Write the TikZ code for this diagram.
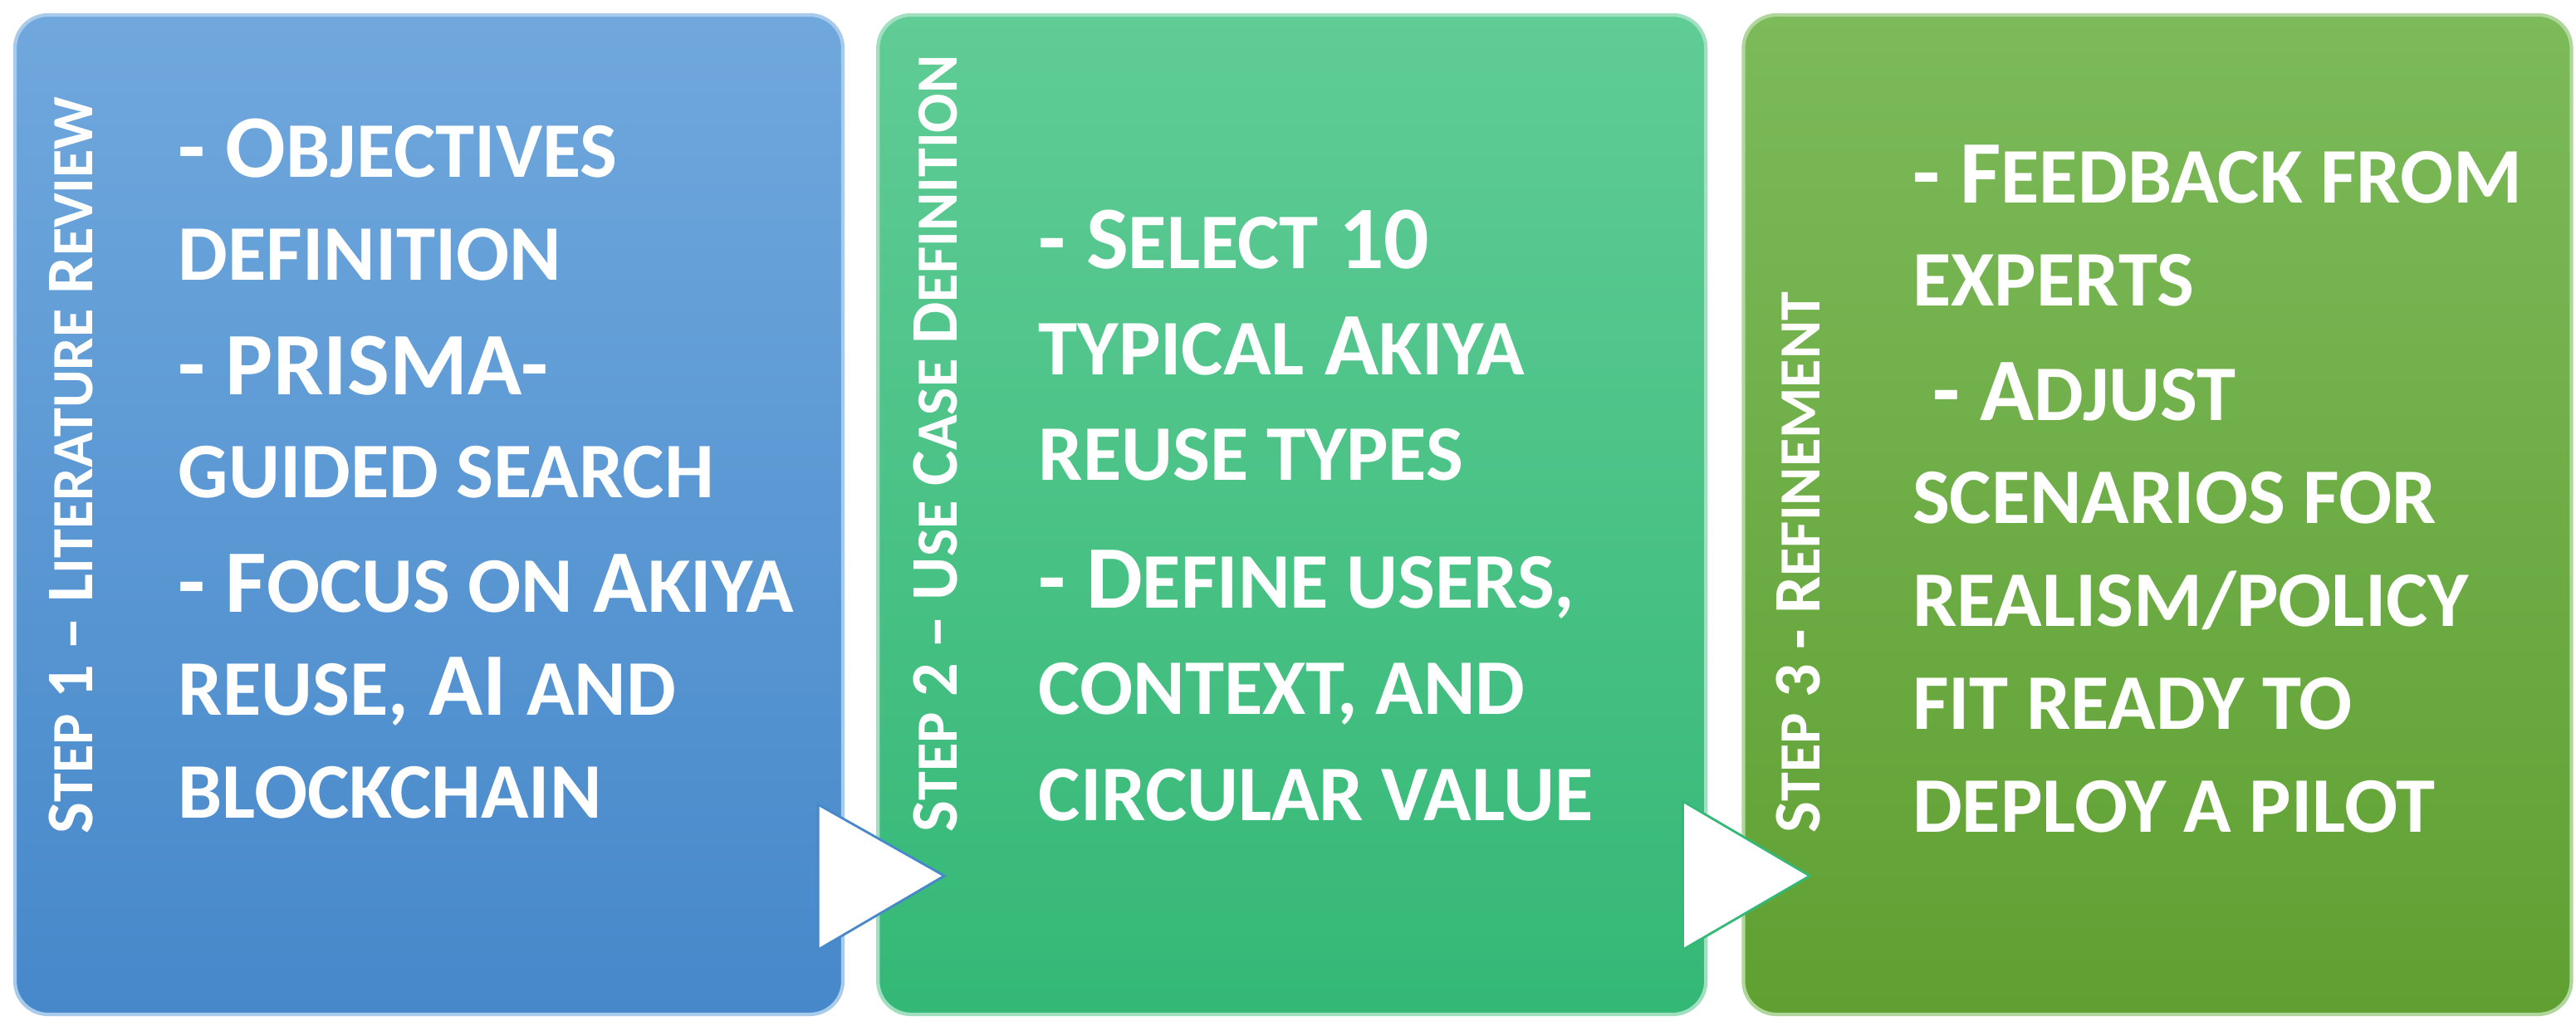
\documentclass[tikz,border=0pt]{standalone}
\usepackage{fontspec}
\setmainfont{Carlito}
\usetikzlibrary{positioning,calc}

\definecolor{littop}{RGB}{112,168,221}
\definecolor{litbot}{RGB}{70,136,202}
\definecolor{usetop}{RGB}{96,204,150}
\definecolor{usebot}{RGB}{52,184,118}
\definecolor{reftop}{RGB}{124,186,90}
\definecolor{refbot}{RGB}{96,160,50}

% faked small capitals for the item text and the step labels
\newcommand\smallcap[1]{{\fontsize{27}{35.3}\selectfont #1}}
\newcommand\labelcap[1]{{\fontsize{20}{24}\selectfont #1}}

\begin{document}
\begin{tikzpicture}[stepbox/.style={rectangle, rounded corners=0.4cm, minimum width=9.97cm, minimum height=12.04cm, inner sep=0pt, line width=1.2pt},
    itemtext/.style={anchor=north west, align=left, inner sep=0pt, text=white, font=\fontsize{30.6}{35.3}\selectfont\bfseries},
    steplabel/.style={anchor=base west, rotate=90, inner sep=0pt, text=white, font=\fontsize{22.8}{26}\selectfont\bfseries},
    flowtip/.style={fill=white, draw=#1, line width=0.8pt, line join=miter}]
        \useasboundingbox (0,0) rectangle (31.02,12.48);
        \fill[white] (0,0) rectangle (31.02,12.48);

        % the three steps
        \node (lit) [stepbox, draw=littop!60!white, top color=littop, bottom color=litbot] at (5.165,6.28) {};
        \node (use) [stepbox, draw=usetop!60!white, top color=usetop, bottom color=usebot, right=0.38cm of lit] {};
        \node (ref) [stepbox, draw=reftop!60!white, top color=reftop, bottom color=refbot, right=0.41cm of use] {};

        % white arrow tips between the steps
        \draw[flowtip=litbot] ($(lit.south east)+(-0.32,0.80)$) -- ($(lit.south east)+(-0.32,2.55)$) -- ($(lit.south east)+(1.20,1.69)$) -- cycle;
        \draw[flowtip=usebot] ($(use.south east)+(-0.30,0.80)$) -- ($(use.south east)+(-0.30,2.59)$) -- ($(use.south east)+(1.23,1.69)$) -- cycle;

        % vertical step names
        \node (litlabel) [steplabel] at ($(lit.south west)+(0.96,2.19)$) {S\labelcap{TEP} 1 – L\labelcap{ITERATURE} R\labelcap{EVIEW}};
        \node (uselabel) [steplabel] at ($(use.south west)+(0.97,2.21)$) {S\labelcap{TEP} 2 – U\labelcap{SE} C\labelcap{ASE} D\labelcap{EFINITION}};
        \node (reflabel) [steplabel] at ($(ref.south west)+(0.94,2.20)$) {S\labelcap{TEP} 3 - R\labelcap{EFINEMENT}};

        % items
        \node (litlist) [itemtext] at ($(lit.north west)+(1.98,-1.26)$) {- O\smallcap{BJECTIVES}\\ \smallcap{DEFINITION}\\[0.14cm]
            - PRISMA-\\ \smallcap{GUIDED SEARCH}\\[0.14cm]
            - F\smallcap{OCUS ON} A\smallcap{KIYA}\\ \smallcap{REUSE,} AI \smallcap{AND}\\ \smallcap{BLOCKCHAIN}};
        \node (uselist) [itemtext, font=\fontsize{30.6}{36.4}\selectfont\bfseries] at ($(use.north west)+(1.95,-2.36)$) {- S\smallcap{ELECT} 10\\ \smallcap{TYPICAL} A\smallcap{KIYA}\\ \smallcap{REUSE TYPES}\\[0.26cm]
            - D\smallcap{EFINE USERS,}\\ \smallcap{CONTEXT, AND}\\ \smallcap{CIRCULAR VALUE}};
        \node (reflist) [itemtext] at ($(ref.north west)+(2.05,-1.58)$) {- F\smallcap{EEDBACK FROM}\\ \smallcap{EXPERTS}\\[0.14cm]
            \ - A\smallcap{DJUST}\\ \smallcap{SCENARIOS FOR}\\ \smallcap{REALISM/POLICY}\\ \smallcap{FIT READY TO}\\ \smallcap{DEPLOY A PILOT}};
    \end{tikzpicture}
\end{document}
